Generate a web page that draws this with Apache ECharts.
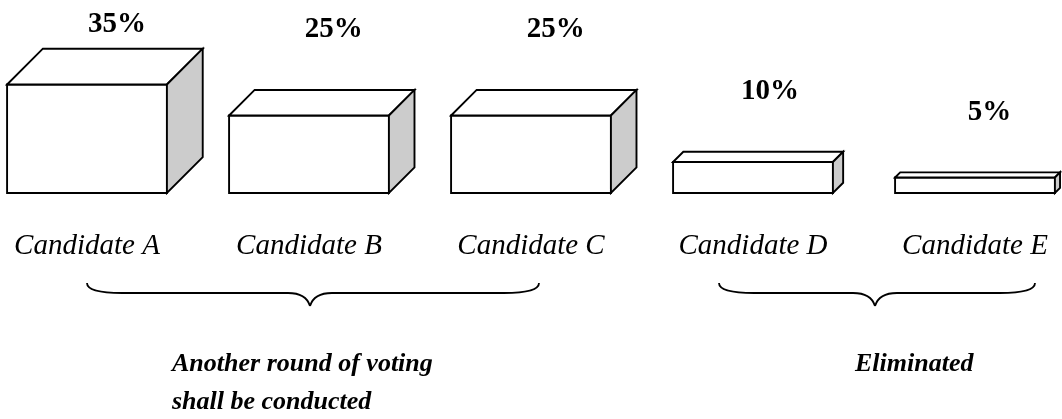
<!DOCTYPE html>
<html>
<head>
<meta charset="utf-8">
<script src="https://cdn.jsdelivr.net/npm/echarts@6/dist/echarts.min.js"></script>
<style>
  html, body { margin: 0; padding: 0; background: #ffffff; }
  #chart { width: 1062px; height: 419px; }
</style>
</head>
<body>
<div id="chart"></div>
<script>
// ---- data ----
const categories = ['Candidate A', 'Candidate B', 'Candidate C', 'Candidate D', 'Candidate E'];
const shares = [35, 25, 25, 10, 5];          // percent of votes
const groupLabels = ['Another round of voting', 'shall be conducted'];
const eliminatedLabel = 'Eliminated';

const SERIF = '"Liberation Serif", "Times New Roman", serif';

const chart = echarts.init(document.getElementById('chart'), null, { renderer: 'canvas' });

function renderBox(params, api) {
  const idx = api.value(0);
  const val = api.value(1);
  const base = api.coord([idx, 0]);
  const top = api.coord([idx, val]);
  const band = api.size([1, 0])[0];
  const w = band * 0.72;
  const cx = base[0];
  const x0 = cx - w / 2, x1 = cx + w / 2;
  const yb = base[1], yt = top[1];
  const h = yb - yt;
  const d = h * 0.33;
  const lineStyle = { stroke: '#000', lineWidth: 1.9, lineJoin: 'miter' };
  const backTop = yt - d;
  const labelY = Math.max(25, backTop - 60);
  return {
    type: 'group',
    children: [
      { type: 'polygon', shape: { points: [[x0, yt], [x1, yt], [x1, yb], [x0, yb]] },
        style: Object.assign({ fill: '#ffffff' }, lineStyle) },
      { type: 'polygon', shape: { points: [[x0, yt], [x0 + d, yt - d], [x1 + d, yt - d], [x1, yt]] },
        style: Object.assign({ fill: '#ffffff' }, lineStyle) },
      { type: 'polygon', shape: { points: [[x1, yt], [x1 + d, yt - d], [x1 + d, yb - d], [x1, yb]] },
        style: Object.assign({ fill: '#cccccc' }, lineStyle) },
      { type: 'text',
        style: { text: val + '%', x: cx + d / 2 + 12, y: labelY, align: 'center', verticalAlign: 'middle',
                 fontFamily: SERIF, fontSize: 29, fontWeight: 'bold', fill: '#000' } }
    ]
  };
}

function brace(xa, xb, xm) {
  const yTop = 283, yFlat = 293, yTip = 306;
  const st = { stroke: '#000', lineWidth: 1.8, fill: 'none' };
  const curve = (x1, y1, cx, cy, x2, y2) => ({
    type: 'bezierCurve', shape: { x1: x1, y1: y1, cpx1: cx, cpy1: cy, x2: x2, y2: y2 }, style: st
  });
  const line = (x1, y1, x2, y2) => ({ type: 'line', shape: { x1: x1, y1: y1, x2: x2, y2: y2 }, style: st });
  return {
    type: 'group',
    children: [
      curve(xa, yTop, xa, yFlat, xa + 35, yFlat),
      line(xa + 35, yFlat, xm - 22, yFlat),
      curve(xm - 22, yFlat, xm - 4, yFlat, xm, yTip),
      curve(xm, yTip, xm + 4, yFlat, xm + 22, yFlat),
      line(xm + 22, yFlat, xb - 35, yFlat),
      curve(xb - 35, yFlat, xb, yFlat, xb, yTop)
    ]
  };
}

const option = {
  backgroundColor: '#ffffff',
  animation: false,
  grid: { left: 87, right: 87, top: 7, bottom: 226, containLabel: false },
  xAxis: {
    type: 'category',
    data: categories,
    boundaryGap: false,
    axisLine: { show: false },
    axisTick: { show: false },
    splitLine: { show: false },
    axisLabel: {
      margin: 39,
      fontFamily: SERIF,
      fontStyle: 'italic',
      fontSize: 29,
      color: '#000',
      interval: 0
    }
  },
  yAxis: {
    type: 'value',
    min: 0,
    max: 60,
    show: false
  },
  series: [{
    type: 'custom',
    renderItem: renderBox,
    clip: false,
    data: shares.map((v, i) => [i, v])
  }],
  graphic: [
    brace(87, 539, 310),
    brace(719, 1035, 875),
    { type: 'text', left: 172, top: 351,
      style: { text: groupLabels[0], fontFamily: SERIF, fontSize: 26, fontWeight: 'bold', fontStyle: 'italic', fill: '#000' } },
    { type: 'text', left: 172, top: 389,
      style: { text: groupLabels[1], fontFamily: SERIF, fontSize: 26, fontWeight: 'bold', fontStyle: 'italic', fill: '#000' } },
    { type: 'text', left: 855, top: 351,
      style: { text: eliminatedLabel, fontFamily: SERIF, fontSize: 26, fontWeight: 'bold', fontStyle: 'italic', fill: '#000' } }
  ]
};

chart.setOption(option);
</script>
</body>
</html>
